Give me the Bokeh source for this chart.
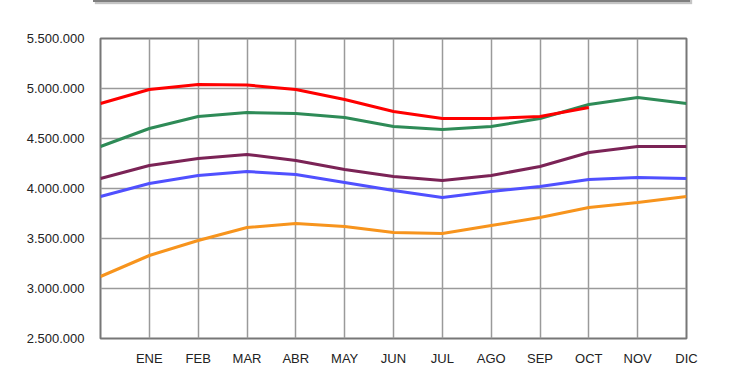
from bokeh.plotting import figure
from bokeh.models import FixedTicker, CustomJSTickFormatter, Range1d, Div
from bokeh.layouts import column
from bokeh.embed import file_html
from bokeh.resources import INLINE

months = ["ENE", "FEB", "MAR", "ABR", "MAY", "JUN", "JUL", "AGO", "SEP", "OCT", "NOV", "DIC"]
x_pos = list(range(0, 13))  # 0 = start point, 1..12 = months

serie_roja = [4850000, 4990000, 5040000, 5035000, 4990000, 4890000, 4770000, 4700000, 4700000, 4720000, 4810000]
serie_verde = [4420000, 4600000, 4720000, 4760000, 4750000, 4710000, 4620000, 4590000, 4620000, 4700000, 4840000, 4910000, 4850000]
serie_morada = [4100000, 4230000, 4300000, 4340000, 4280000, 4190000, 4120000, 4080000, 4130000, 4220000, 4360000, 4420000, 4420000]
serie_azul = [3920000, 4050000, 4130000, 4170000, 4140000, 4060000, 3980000, 3910000, 3970000, 4020000, 4090000, 4110000, 4100000]
serie_naranja = [3120000, 3330000, 3480000, 3610000, 3650000, 3620000, 3560000, 3550000, 3630000, 3710000, 3810000, 3860000, 3920000]

y_ticks = [2500000, 3000000, 3500000, 4000000, 4500000, 5000000, 5500000]

p = figure(width=732, height=372, output_backend="svg", toolbar_location=None,
           x_range=Range1d(0, 12), y_range=Range1d(2500000, 5500000),
           min_border_left=100, min_border_right=46, min_border_top=31, min_border_bottom=41)

series = [
    (serie_naranja, "#F7941D"),
    (serie_azul, "#5050FF"),
    (serie_morada, "#7B2356"),
    (serie_verde, "#2E8B57"),
    (serie_roja, "#FF0000"),
]
for vals, col in series:
    p.line(x_pos[:len(vals)], vals, line_color=col, line_width=3)

p.xaxis.ticker = FixedTicker(ticks=list(range(1, 13)))
p.xaxis.major_label_overrides = {i + 1: m for i, m in enumerate(months)}
p.xgrid.ticker = FixedTicker(ticks=list(range(0, 13)))
p.yaxis.ticker = FixedTicker(ticks=y_ticks)
p.yaxis.formatter = CustomJSTickFormatter(code="return tick.toFixed(0).replace(/\\B(?=(\\d{3})+(?!\\d))/g, '.');")

for ax in (p.xaxis[0], p.yaxis[0]):
    ax.axis_line_color = None
    ax.major_tick_line_color = None
    ax.minor_tick_line_color = None
    ax.major_label_text_font = "Liberation Sans"
    ax.major_label_text_font_size = "13px"
    ax.major_label_text_color = "#222222"
p.yaxis.major_label_standoff = 10
p.xaxis.major_label_standoff = 6

p.grid.grid_line_color = "#9a9a9a"
p.grid.grid_line_width = 1.5
p.outline_line_color = "#777777"
p.outline_line_width = 2
p.background_fill_color = "white"
p.border_fill_color = "white"

bar = Div(text="", width=597, height=5,
          styles={"background-color": "#7f7f7f", "box-shadow": "2px 2px 1px #c4c4c4",
                  "margin-left": "93px", "margin-top": "-3px"})

layout = column(bar, p, spacing=0)
open("out.html", "w").write(file_html(layout, INLINE))
